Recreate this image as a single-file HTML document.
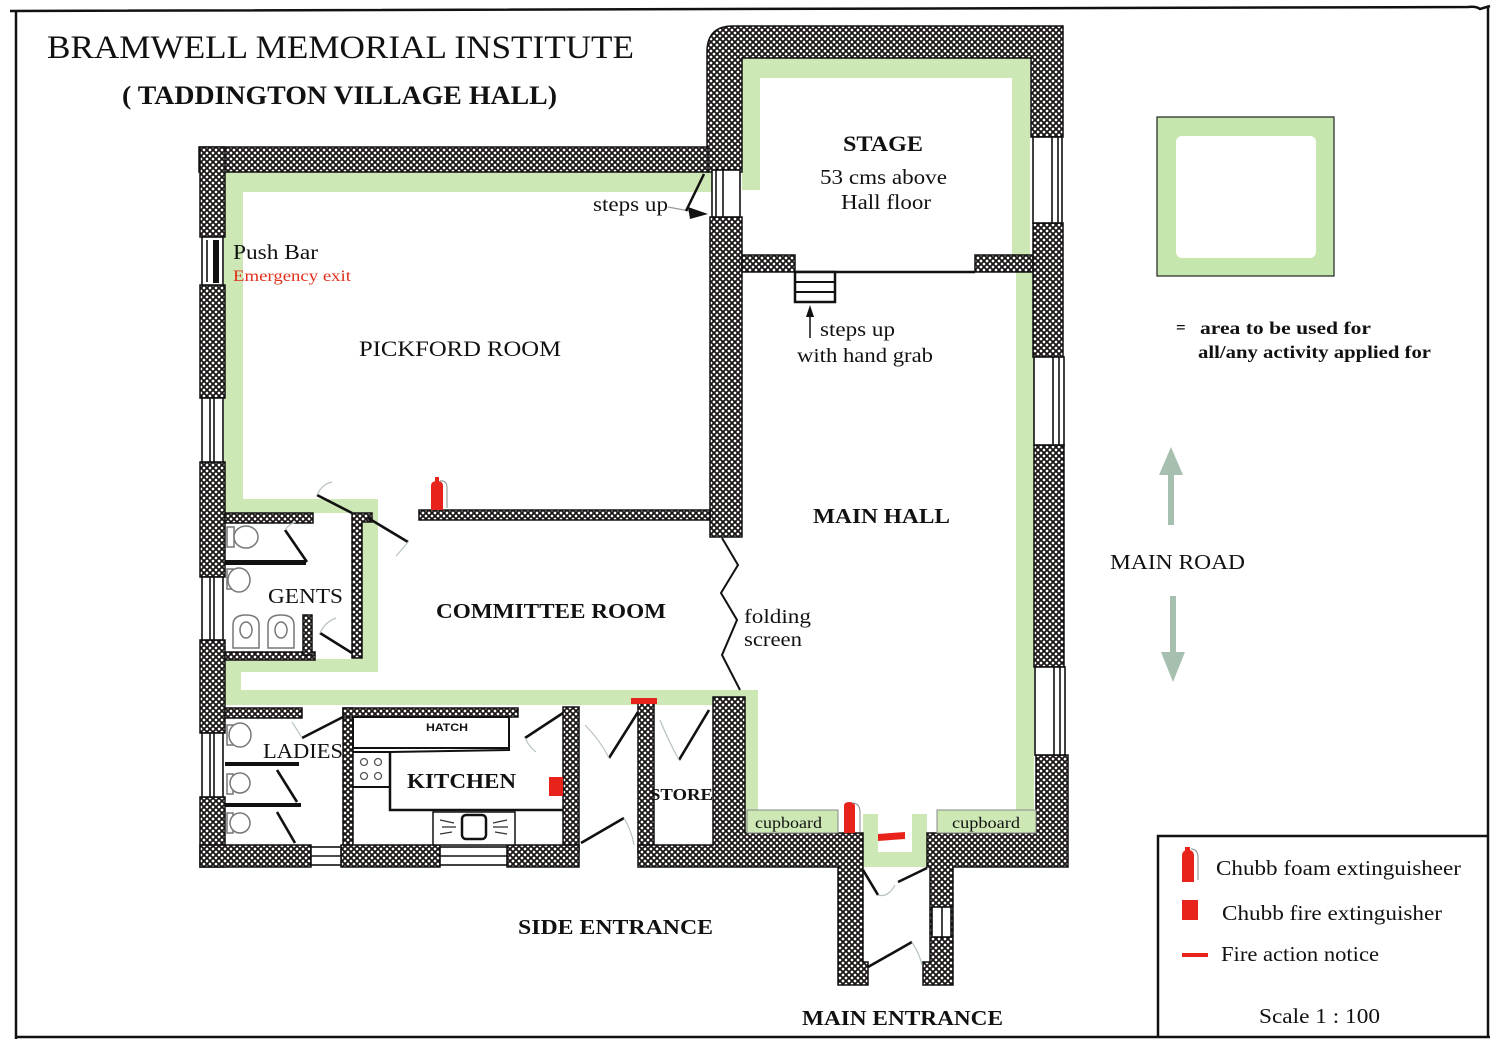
<!DOCTYPE html>
<html>
<head>
<meta charset="utf-8">
<style>
  html,body{margin:0;padding:0;background:#fff;}
  svg{display:block;}
  text{font-family:"Liberation Serif",serif;fill:#111;}
  .b{font-weight:bold;}
</style>
</head>
<body>
<svg width="1493" height="1048" viewBox="0 0 1493 1048" xmlns="http://www.w3.org/2000/svg">
<defs>
  <pattern id="h" width="6" height="6" patternUnits="userSpaceOnUse">
    <rect width="6" height="6" fill="#1d1717"/>
    <circle cx="0" cy="0" r="1.35" fill="#fff"/>
    <circle cx="6" cy="0" r="1.35" fill="#fff"/>
    <circle cx="0" cy="6" r="1.35" fill="#fff"/>
    <circle cx="6" cy="6" r="1.35" fill="#fff"/>
    <circle cx="3" cy="3" r="1.35" fill="#fff"/>
  </pattern>
</defs>

<rect width="1493" height="1048" fill="#fff"/>

<!-- outer frame -->
<g stroke="#111" stroke-width="2.5" fill="none">
  <path d="M10,11 L1468,7 Q1476,6 1480,9 L1490,6"/>
  <line x1="16" y1="10" x2="16" y2="1039"/>
  <line x1="16" y1="1037" x2="1490" y2="1037"/>
  <line x1="1488" y1="6" x2="1488" y2="1038"/>
  <path d="M1158,1037 L1158,836 L1488,836"/>
</g>

<!-- GREEN BANDS -->
<g fill="#cde8b5">
  <!-- stage -->
  <rect x="742" y="58" width="288" height="20"/>
  <rect x="742" y="58" width="18" height="132"/>
  <rect x="1012" y="58" width="18" height="197"/>
  <!-- pickford -->
  <rect x="224" y="172" width="488" height="20"/>
  <rect x="224" y="172" width="19" height="341"/>
  <rect x="224" y="499" width="154" height="14"/>
  <!-- committee -->
  <rect x="362" y="499" width="16" height="173"/>
  <rect x="224" y="659" width="154" height="13"/>
  <rect x="224" y="659" width="17" height="46"/>
  <rect x="224" y="690" width="522" height="15"/>
  <!-- main hall -->
  <rect x="1016" y="272" width="18" height="561"/>
  <rect x="745" y="690" width="13" height="143"/>
  <rect x="863" y="814" width="15" height="53"/>
  <rect x="912" y="814" width="15" height="53"/>
  <rect x="863" y="852" width="64" height="15"/>
</g>

<!-- WALLS -->
<g fill="url(#h)" stroke="#111" stroke-width="1.5">
  <!-- stage top/left/right upper -->
  <path d="M707,172 L707,52 Q707,26 733,26 L1063,26 L1063,137 L1031,137 L1031,58 L742,58 L742,172 Z"/>
  <!-- pickford top -->
  <rect x="199" y="147" width="509" height="25"/>
  <!-- separator wall -->
  <rect x="710" y="217" width="32" height="320"/>
  <!-- stage bottom walls -->
  <rect x="742" y="255" width="53" height="17"/>
  <rect x="975" y="255" width="58" height="17"/>
  <!-- right wall -->
  <rect x="1033" y="223" width="30" height="134"/>
  <rect x="1034" y="445" width="30" height="222"/>
  <!-- left wall segments -->
  <rect x="200" y="147" width="25" height="90"/>
  <rect x="200" y="285" width="25" height="113"/>
  <rect x="200" y="462" width="25" height="115"/>
  <rect x="200" y="640" width="25" height="93"/>
  <rect x="200" y="797" width="25" height="70"/>
  <!-- committee top -->
  <rect x="419" y="510" width="291" height="10"/>
  <!-- gents -->
  <rect x="225" y="513" width="88" height="10"/>
  <path d="M352,513 L372,513 L372,522 L362,522 L362,658 L352,658 Z"/>
  <rect x="225" y="652" width="90" height="8"/>
  <rect x="303" y="615" width="9" height="40"/>
  <!-- ladies top -->
  <rect x="225" y="708" width="77" height="10"/>
  <!-- kitchen -->
  <rect x="343" y="708" width="10" height="145"/>
  <rect x="343" y="708" width="175" height="9"/>
  <rect x="563" y="707" width="16" height="145"/>
  <rect x="638" y="703" width="16" height="150"/>
  <!-- bottom wall left -->
  <rect x="200" y="845" width="111" height="22"/>
  <rect x="341" y="845" width="99" height="22"/>
  <rect x="507" y="845" width="72" height="22"/>
  <!-- store / main bottom left + entrance left -->
  <path d="M638,845 L713,845 L713,697 L745,697 L745,833 L863,833 L863,962 L868,962 L868,985 L838,985 L838,867 L638,867 Z"/>
  <!-- right bottom + entrance right -->
  <path d="M927,833 L1036,833 L1036,755 L1068,755 L1068,867 L953,867 L953,985 L923,985 L923,962 L930,962 L930,867 L927,867 Z"/>
</g>

<!-- windows -->
<g fill="#fff" stroke="#111" stroke-width="1.6">
  <!-- left wall -->
  <rect x="202" y="237" width="21" height="48"/>
  <rect x="202" y="398" width="21" height="64"/>
  <rect x="202" y="577" width="21" height="63"/>
  <rect x="202" y="733" width="21" height="64"/>
  <!-- right wall -->
  <rect x="1033" y="137" width="29" height="86"/>
  <rect x="1034" y="357" width="30" height="88"/>
  <rect x="1035" y="667" width="30" height="88"/>
  <!-- bottom wall -->
  <rect x="311" y="847" width="30" height="18"/>
  <rect x="440" y="847" width="67" height="18"/>
  <!-- entrance right -->
  <rect x="932" y="907" width="19" height="30"/>
  <!-- steps top -->
  <rect x="712" y="170" width="28" height="47"/>
</g>
<g stroke="#111" stroke-width="1.6">
  <line x1="210" y1="398" x2="210" y2="462"/><line x1="214" y1="398" x2="214" y2="462"/>
  <line x1="210" y1="577" x2="210" y2="640"/><line x1="214" y1="577" x2="214" y2="640"/>
  <line x1="210" y1="733" x2="210" y2="797"/><line x1="214" y1="733" x2="214" y2="797"/>
  <line x1="207" y1="240" x2="207" y2="282"/>
  <line x1="1052" y1="137" x2="1052" y2="223"/><line x1="1058" y1="137" x2="1058" y2="223"/>
  <line x1="1053" y1="357" x2="1053" y2="445"/><line x1="1059" y1="357" x2="1059" y2="445"/>
  <line x1="1054" y1="667" x2="1054" y2="755"/><line x1="1060" y1="667" x2="1060" y2="755"/>
  <line x1="311" y1="856" x2="341" y2="856"/>
  <line x1="440" y1="856" x2="507" y2="856"/>
  <line x1="942" y1="907" x2="942" y2="937"/>
  <line x1="716" y1="170" x2="716" y2="217"/><line x1="723" y1="170" x2="723" y2="217"/>
</g>
<rect x="213" y="240" width="6" height="43" fill="#111"/>

<!-- stage front line and steps -->
<line x1="795" y1="272" x2="975" y2="272" stroke="#111" stroke-width="2.5"/>
<g fill="#fff" stroke="#111" stroke-width="2.5">
  <rect x="795" y="272" width="40" height="30"/>
</g>
<line x1="795" y1="282" x2="835" y2="282" stroke="#111" stroke-width="2"/>
<line x1="795" y1="292" x2="835" y2="292" stroke="#111" stroke-width="2"/>
<!-- steps up arrow (hall) -->
<line x1="810" y1="314" x2="810" y2="338" stroke="#111" stroke-width="1.5"/>
<polygon points="810,305 806,317 814,317" fill="#111"/>

<!-- steps up arrow (pickford) -->
<line x1="668" y1="207" x2="700" y2="213" stroke="#999" stroke-width="1.2"/>
<line x1="704" y1="174" x2="686" y2="211" stroke="#111" stroke-width="2.5"/>
<polygon points="708,214 688,207 690,219" fill="#111"/>

<!-- gents fixtures -->
<rect x="225" y="560" width="81" height="5" fill="#111"/>
<g fill="#fff" stroke="#777" stroke-width="1.5">
  <rect x="227" y="527" width="7" height="20"/>
  <ellipse cx="246" cy="537" rx="12" ry="11"/>
  <rect x="227" y="569" width="6" height="20"/>
  <ellipse cx="239" cy="580" rx="11" ry="12"/>
  <path d="M233,648 L233,625 Q233,615 246,615 Q259,615 259,625 L259,648 Z"/>
  <ellipse cx="246" cy="630" rx="6" ry="8"/>
  <path d="M268,648 L268,625 Q268,615 281,615 Q294,615 294,625 L294,648 Z"/>
  <ellipse cx="281" cy="630" rx="6" ry="8"/>
</g>
<!-- ladies fixtures -->
<rect x="225" y="762" width="74" height="4" fill="#111"/>
<rect x="225" y="803" width="76" height="4" fill="#111"/>
<g fill="#fff" stroke="#777" stroke-width="1.5">
  <rect x="227" y="725" width="6" height="20"/>
  <ellipse cx="240" cy="735" rx="11" ry="12"/>
  <rect x="227" y="774" width="6" height="20"/>
  <ellipse cx="240" cy="783" rx="10" ry="10"/>
  <rect x="227" y="813" width="6" height="20"/>
  <ellipse cx="240" cy="823" rx="10" ry="10"/>
</g>

<!-- kitchen fixtures -->
<rect x="353" y="717" width="156" height="31" fill="#fff" stroke="#111" stroke-width="2"/>
<polyline points="353,752 390,752 509,750 509,748" fill="none" stroke="#111" stroke-width="2"/>
<polyline points="390,752 390,810 563,810" fill="none" stroke="#111" stroke-width="2.5"/>
<line x1="353" y1="787" x2="390" y2="787" stroke="#111" stroke-width="2"/>
<g fill="none" stroke="#555" stroke-width="1.3">
  <circle cx="364" cy="762" r="3.5"/><circle cx="378" cy="762" r="3.5"/>
  <circle cx="364" cy="776" r="3.5"/><circle cx="378" cy="776" r="3.5"/>
</g>
<rect x="433" y="812" width="82" height="33" fill="#fff" stroke="#111" stroke-width="1.5"/>
<rect x="462" y="815" width="24" height="24" rx="4" fill="#fff" stroke="#111" stroke-width="2.5"/>
<g stroke="#333" stroke-width="1.3">
  <line x1="440" y1="820" x2="454" y2="823"/><line x1="442" y1="827" x2="456" y2="827"/><line x1="440" y1="834" x2="452" y2="832"/>
  <line x1="493" y1="823" x2="507" y2="820"/><line x1="493" y1="827" x2="508" y2="827"/><line x1="495" y1="832" x2="507" y2="834"/>
</g>

<!-- doors -->
<g stroke="#111" stroke-width="2.6" fill="none">
  <line x1="317" y1="495" x2="352" y2="513"/>
  <line x1="368" y1="518" x2="408" y2="542"/>
  <line x1="285" y1="530" x2="307" y2="562"/>
  <line x1="320" y1="633" x2="352" y2="653"/>
  <line x1="302" y1="738" x2="343" y2="717"/>
  <line x1="277" y1="770" x2="297" y2="802"/>
  <line x1="277" y1="812" x2="295" y2="843"/>
  <line x1="525" y1="738" x2="563" y2="713"/>
  <line x1="581" y1="843" x2="624" y2="818"/>
  <line x1="638" y1="712" x2="609" y2="758"/>
  <line x1="709" y1="710" x2="679" y2="760"/>
  <line x1="863" y1="870" x2="878" y2="895"/>
  <line x1="927" y1="868" x2="898" y2="882"/>
  <line x1="868" y1="967" x2="912" y2="942"/>
</g>
<!-- faint door arcs -->
<g stroke="#b8c4c0" stroke-width="1.2" fill="none">
  <path d="M317,495 Q322,484 332,482"/>
  <path d="M408,542 Q400,552 396,556"/>
  <path d="M285,530 Q290,523 296,522"/>
  <path d="M320,633 Q325,622 336,618"/>
  <path d="M302,738 Q296,728 292,722"/>
  <path d="M525,738 Q530,748 536,752"/>
  <path d="M624,818 Q632,832 634,845"/>
  <path d="M609,758 Q600,740 585,725"/>
  <path d="M679,760 Q668,740 660,720"/>
  <path d="M878,895 Q888,898 895,885"/>
  <path d="M912,942 Q920,955 922,965"/>
</g>

<!-- folding screen -->
<polyline points="722,538 738,565 721,593 737,620 722,655 740,690" fill="none" stroke="#111" stroke-width="2"/>

<!-- cupboards -->
<rect x="747" y="810" width="91" height="23" fill="#cde8b5" stroke="#888" stroke-width="1"/>
<rect x="937" y="810" width="99" height="23" fill="#cde8b5" stroke="#888" stroke-width="1"/>

<!-- red items -->
<g fill="#e8231c">
  <path d="M431,510 L431,486 Q431,481 437,481 Q443,481 443,486 L443,510 Z"/>
  <rect x="435" y="477" width="4" height="5"/>
  <rect x="549" y="777" width="14" height="19"/>
  <path d="M844,833 L844,806 Q844,802 849,802 Q855,802 855,806 L855,833 Z"/>
  <polygon points="878,834 905,832 905,839 878,841"/>
  <rect x="631" y="698" width="26" height="6"/>
  <!-- legend icons -->
  <path d="M1182,882 L1182,856 Q1182,850 1188,850 Q1194,850 1194,856 L1194,882 Z"/>
  <rect x="1185" y="847" width="5" height="4"/>
  <rect x="1182" y="900" width="16" height="20"/>
  <rect x="1182" y="953" width="26" height="4"/>
</g>
<g stroke="#888" stroke-width="1" fill="none">
  <path d="M440,481 Q447,480 447,488 L447,508"/>
  <path d="M852,803 Q860,803 860,812 L860,832"/>
  <path d="M1191,849 Q1198,849 1198,858 L1198,880"/>
</g>

<!-- legend green square -->
<rect x="1157" y="117" width="177" height="159" fill="#c5e6ac" stroke="#222" stroke-width="1.2"/>
<rect x="1176" y="136" width="140" height="122" rx="6" fill="#fff"/>

<!-- main road arrows -->
<g fill="#a7bfae">
  <rect x="1168" y="474" width="6" height="51"/>
  <polygon points="1171,447 1159,475 1183,475"/>
  <rect x="1170" y="596" width="6" height="58"/>
  <polygon points="1173,682 1161,652 1185,652"/>
</g>

<!-- TEXT -->
<text x="47" y="58" font-size="33" textLength="587" lengthAdjust="spacingAndGlyphs">BRAMWELL MEMORIAL INSTITUTE</text>
<text x="122" y="104" font-size="26" class="b" textLength="435" lengthAdjust="spacingAndGlyphs">( TADDINGTON VILLAGE  HALL)</text>

<text x="843" y="151" font-size="22" class="b" textLength="80" lengthAdjust="spacingAndGlyphs">STAGE</text>
<text x="820" y="184" font-size="21" textLength="127" lengthAdjust="spacingAndGlyphs">53 cms above</text>
<text x="841" y="209" font-size="21" textLength="90" lengthAdjust="spacingAndGlyphs">Hall floor</text>

<text x="593" y="211" font-size="20" textLength="75" lengthAdjust="spacingAndGlyphs">steps up</text>
<text x="233" y="259" font-size="21" textLength="85" lengthAdjust="spacingAndGlyphs">Push Bar</text>
<text x="233" y="281" font-size="16" style="fill:#e0301c" textLength="118" lengthAdjust="spacingAndGlyphs">Emergency  exit</text>
<text x="359" y="356" font-size="22" textLength="202" lengthAdjust="spacingAndGlyphs">PICKFORD ROOM</text>

<text x="820" y="336" font-size="20" textLength="75" lengthAdjust="spacingAndGlyphs">steps up</text>
<text x="797" y="362" font-size="20" textLength="136" lengthAdjust="spacingAndGlyphs">with hand grab</text>

<text x="1176" y="333" font-size="17" class="b">=</text>
<text x="1200" y="334" font-size="18" class="b" textLength="171" lengthAdjust="spacingAndGlyphs">area to be used for</text>
<text x="1198" y="358" font-size="18" class="b" textLength="233" lengthAdjust="spacingAndGlyphs">all/any activity applied for</text>

<text x="1110" y="569" font-size="21" textLength="135" lengthAdjust="spacingAndGlyphs">MAIN ROAD</text>
<text x="813" y="523" font-size="21" class="b" textLength="137" lengthAdjust="spacingAndGlyphs">MAIN HALL</text>

<text x="268" y="603" font-size="21" textLength="75" lengthAdjust="spacingAndGlyphs">GENTS</text>
<text x="436" y="618" font-size="21" class="b" textLength="230" lengthAdjust="spacingAndGlyphs">COMMITTEE ROOM</text>
<text x="744" y="623" font-size="20" textLength="67" lengthAdjust="spacingAndGlyphs">folding</text>
<text x="744" y="646" font-size="20" textLength="58" lengthAdjust="spacingAndGlyphs">screen</text>

<text x="263" y="758" font-size="21" textLength="80" lengthAdjust="spacingAndGlyphs">LADIES</text>
<text x="426" y="731" font-size="11" class="b" textLength="42" lengthAdjust="spacingAndGlyphs" style="font-family:'Liberation Sans',sans-serif">HATCH</text>
<text x="407" y="788" font-size="21" class="b" textLength="109" lengthAdjust="spacingAndGlyphs">KITCHEN</text>
<text x="650" y="800" font-size="17" class="b" textLength="63" lengthAdjust="spacingAndGlyphs">STORE</text>
<text x="755" y="828" font-size="16" textLength="67" lengthAdjust="spacingAndGlyphs">cupboard</text>
<text x="952" y="828" font-size="16" textLength="68" lengthAdjust="spacingAndGlyphs">cupboard</text>

<text x="518" y="934" font-size="21" class="b" textLength="195" lengthAdjust="spacingAndGlyphs">SIDE ENTRANCE</text>
<text x="802" y="1025" font-size="21" class="b" textLength="201" lengthAdjust="spacingAndGlyphs">MAIN ENTRANCE</text>

<text x="1216" y="875" font-size="21" textLength="245" lengthAdjust="spacingAndGlyphs">Chubb foam extinguisheer</text>
<text x="1222" y="920" font-size="21" textLength="220" lengthAdjust="spacingAndGlyphs">Chubb fire extinguisher</text>
<text x="1221" y="961" font-size="21" textLength="158" lengthAdjust="spacingAndGlyphs">Fire action notice</text>
<text x="1259" y="1023" font-size="21" textLength="121" lengthAdjust="spacingAndGlyphs">Scale 1 : 100</text>
</svg>
</body>
</html>
